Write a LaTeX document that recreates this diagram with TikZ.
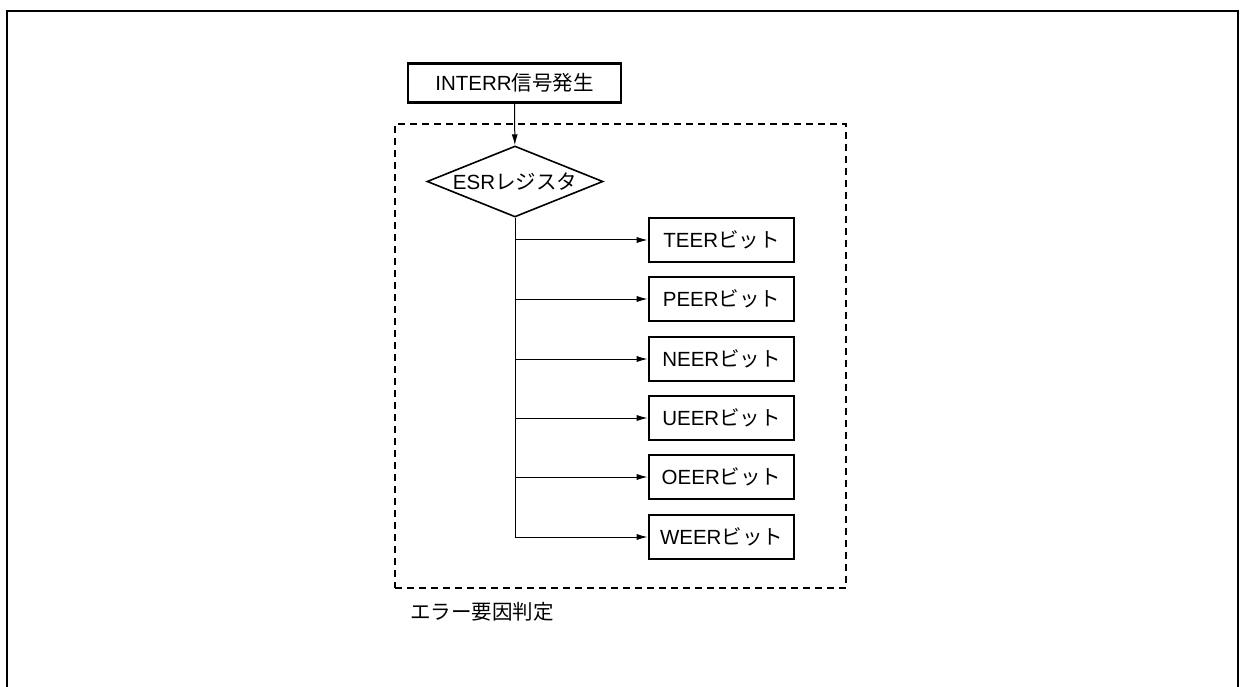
\documentclass[tikz,border=0pt]{standalone}
\usepackage{fontspec}
\setmainfont{Liberation Sans}
\newfontfamily\jp{Noto Sans CJK JP}
\usetikzlibrary{shapes.geometric,arrows.meta}
\begin{document}
\begin{tikzpicture}[x=1pt,y=-1pt,
  txt/.style={font=\fontsize{20.5}{24}\selectfont, inner sep=0pt},
  bitbox/.style={txt, draw, line width=2.6pt, minimum width=145pt, minimum height=44pt},
  startbox/.style={txt, draw, line width=2.6pt, minimum width=213pt, minimum height=39pt},
  decision/.style={txt, draw, diamond, line width=1.6pt, minimum width=176pt, minimum height=71pt, aspect=2.48},
  conn/.style={line width=1pt, -{Latex[length=11pt,width=6pt]}},
  frame/.style={line width=2.6pt},
  group/.style={draw, line width=1.3pt, dash pattern=on 7pt off 5pt}]
\useasboundingbox (0,0) rectangle (1240,687);
% outer frame (open at bottom)
\draw[frame] (7,687) -- (7,11) -- (1238,11) -- (1238,687);
% dashed group
\node[group, minimum width=451pt, minimum height=464pt, inner sep=0pt] (grp) at (620.5,356) {};
\node[txt, anchor=west] (lbl) at (410,612) {\jp エラー要因判定};
% start
\node[startbox] (start) at (514.5,83) {INTERR{\jp 信号発生}};
\node[decision] (esr) at (515,181.5) {ESR{\jp レジスタ}};
\draw[conn] (start) -- (esr);
% bits
\foreach \n/\t/\y in {teer/T/240, peer/P/299, neer/N/359, ueer/U/418, oeer/O/477, weer/W/537}{
  \node[bitbox] (\n) at (721.5,\y) {\t EER{\jp ビット}};
  \coordinate (b\n) at (515,\y);
  \draw[conn] (b\n) -- (\n.west);
}
\draw[line width=1pt] (esr.south) -- (bweer);
\end{tikzpicture}
\end{document}
